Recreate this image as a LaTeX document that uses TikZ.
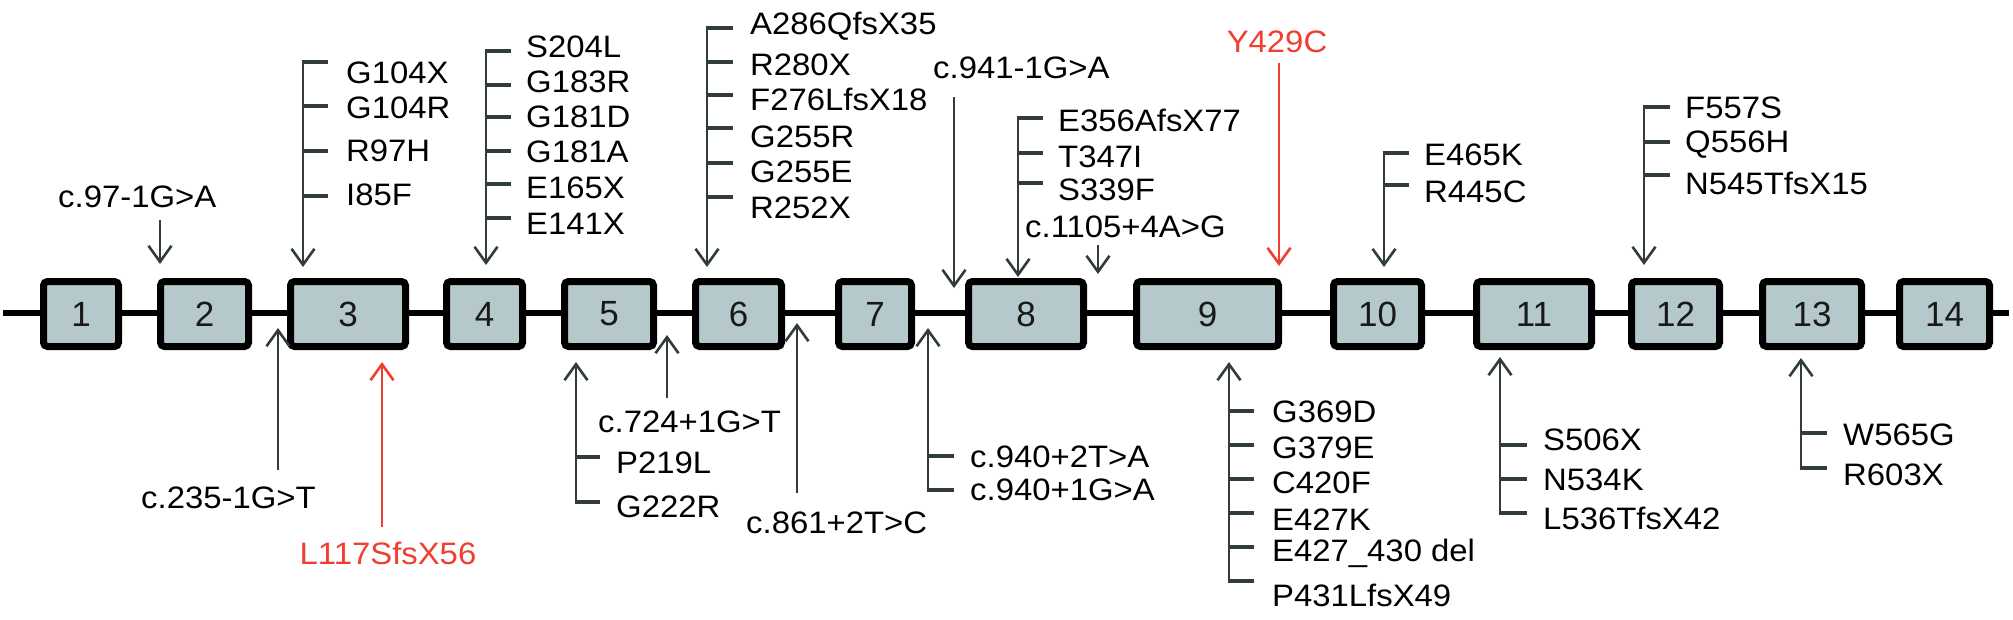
\documentclass[tikz,border=0pt]{standalone}
\usepackage{fontspec}
\setmainfont{Liberation Sans}
\usetikzlibrary{arrows.meta}
\definecolor{boxfill}{RGB}{181,200,203}
\definecolor{ln}{RGB}{50,60,60}
\definecolor{redm}{RGB}{240,62,50}
\begin{document}
\begin{tikzpicture}[x=1pt,y=-1pt,
  lab/.style={anchor=west,inner sep=0pt,font=\fontsize{31}{36}\selectfont,xscale=1.06},
  exon/.style={draw=black,line width=7pt,fill=boxfill,rounded corners=4pt,inner sep=0pt,
    minimum height=65pt,font=\fontsize{35}{40}\selectfont,text=black!90},
  stem/.style={draw=ln,line width=2.6pt},
  tickln/.style={draw=ln,line width=4pt},
  arr/.style={-{Straight Barb[length=16pt,width=23pt,line width=2.6pt]}},
  redarr/.style={draw=redm,line width=2.6pt,-{Straight Barb[length=16pt,width=23pt,line width=2.6pt]}}]
\fill[white] (0,0) rectangle (2013,619);
\useasboundingbox (0,0) rectangle (2013,619);
% backbone
\coordinate (L) at (3,313);
\coordinate (R) at (2009,313);
\draw[line width=6pt] (L) -- (R);
% exons
\foreach \n/\a/\b in {1/40/122,2/157/252,3/287/409,4/443/526,5/561/657,6/692/785,7/835/915,8/965/1087,9/1133/1282,10/1330/1425,11/1473/1595,12/1628/1723,13/1759/1865,14/1896/1993}{
  \pgfmathsetmacro{\w}{\b-\a-7}
  \pgfmathsetmacro{\c}{(\a+\b)/2}
  \node[exon,minimum width=\w pt] (e\n) at (\c,314) {\n};
}
% ---------- top ----------
% c.97-1G>A
\node[lab] (c97) at (58,197) {c.97-1G>A};
\coordinate (s97) at (160,220);
\coordinate (t97) at (160,264);
\draw[stem,arr] (s97) -- (t97);
% exon 3
\coordinate (s3) at (303,62);
\coordinate (t3) at (303,267);
\draw[stem,arr] (s3) -- (t3);
\foreach \y in {62,106,151,196} \draw[tickln] (301.7,\y) -- (328,\y);
\foreach \t/\y/\k in {G104X/73/a,G104R/108/b,R97H/151/c,I85F/195/d} \node[lab] (x3\k) at (346,\y) {\t};
% exon 4
\coordinate (s4) at (486,51);
\coordinate (t4) at (486,265);
\draw[stem,arr] (s4) -- (t4);
\foreach \y in {51,85,117,151,184,218} \draw[tickln] (484.7,\y) -- (511,\y);
\foreach \t/\y/\k in {S204L/47/a,G183R/82/b,G181D/117/c,G181A/152/d,E165X/188/e,E141X/224/f} \node[lab] (x4\k) at (526,\y) {\t};
% exon 6
\coordinate (s6) at (707,28);
\coordinate (t6) at (707,267);
\draw[stem,arr] (s6) -- (t6);
\foreach \y in {28,62,95,128,163,197} \draw[tickln] (705.7,\y) -- (733,\y);
\foreach \t/\y/\k in {A286QfsX35/26/a,R280X/65/b,F276LfsX18/99/c,G255R/137/d,G255E/172/e,R252X/208/f} \node[lab] (x6\k) at (750,\y) {\t};
% c.941-1G>A
\node[lab] (c941) at (933,68) {c.941-1G>A};
\coordinate (s941) at (954,97);
\coordinate (t941) at (954,288);
\draw[stem,arr] (s941) -- (t941);
% exon 8
\coordinate (s8) at (1018,118);
\coordinate (t8) at (1018,277);
\draw[stem,arr] (s8) -- (t8);
\foreach \y in {118,153,183} \draw[tickln] (1016.7,\y) -- (1043,\y);
\foreach \t/\y/\k in {E356AfsX77/120/a,T347I/157/b,S339F/190/c} \node[lab] (x8\k) at (1058,\y) {\t};
% c.1105+4A>G
\node[lab] (c1105) at (1025,227) {c.1105+4A>G};
\coordinate (s1105) at (1098,245);
\coordinate (t1105) at (1098,274);
\draw[stem,arr] (s1105) -- (t1105);
% Y429C
\node[lab,anchor=center,text=redm] (y429) at (1277,42) {Y429C};
\coordinate (s429) at (1279,63);
\coordinate (t429) at (1279,266);
\draw[redarr] (s429) -- (t429);
% exon 10
\coordinate (s10) at (1384,153);
\coordinate (t10) at (1384,267);
\draw[stem,arr] (s10) -- (t10);
\foreach \y in {153,185} \draw[tickln] (1382.7,\y) -- (1409,\y);
\foreach \t/\y/\k in {E465K/155/a,R445C/192/b} \node[lab] (x10\k) at (1424,\y) {\t};
% exon 12
\coordinate (s12) at (1644,107);
\coordinate (t12) at (1644,265);
\draw[stem,arr] (s12) -- (t12);
\foreach \y in {107,142,175} \draw[tickln] (1642.7,\y) -- (1670,\y);
\foreach \t/\y/\k in {F557S/108/a,Q556H/145/b,N545TfsX15/183/c} \node[lab] (x12\k) at (1685,\y) {\t};
% ---------- bottom ----------
% c.235-1G>T
\node[lab] (c235) at (141,498) {c.235-1G>T};
\coordinate (s235) at (278,470);
\coordinate (t235) at (278,328);
\draw[stem,arr] (s235) -- (t235);
% L117SfsX56
\node[lab,anchor=center,text=redm] (l117) at (388,553) {L117SfsX56};
\coordinate (s117) at (382,527);
\coordinate (t117) at (382,362);
\draw[redarr] (s117) -- (t117);
% exon 5
\coordinate (s5) at (576,502);
\coordinate (t5) at (576,362);
\draw[stem,arr] (s5) -- (t5);
\foreach \y in {457,502} \draw[tickln] (574.7,\y) -- (600,\y);
\foreach \t/\y/\k in {P219L/463/a,G222R/507/b} \node[lab] (x5\k) at (616,\y) {\t};
% c.724+1G>T
\node[lab] (c724) at (598,422) {c.724+1G>T};
\coordinate (s724) at (667,398);
\coordinate (t724) at (667,335);
\draw[stem,arr] (s724) -- (t724);
% c.861+2T>C
\node[lab] (c861) at (746,523) {c.861+2T>C};
\coordinate (s861) at (797,493);
\coordinate (t861) at (797,323);
\draw[stem,arr] (s861) -- (t861);
% exon 7 (c.940)
\coordinate (s7) at (928,490);
\coordinate (t7) at (928,328);
\draw[stem,arr] (s7) -- (t7);
\foreach \y in {456,490} \draw[tickln] (926.7,\y) -- (954,\y);
\foreach \t/\y/\k in {c.940+2T>A/457/a,c.940+1G>A/490/b} \node[lab] (x7\k) at (970,\y) {\t};
% exon 9
\coordinate (s9) at (1229,581);
\coordinate (t9) at (1229,362);
\draw[stem,arr] (s9) -- (t9);
\foreach \y in {411,445,479,513,547,581} \draw[tickln] (1227.7,\y) -- (1254,\y);
\foreach \t/\y/\k in {G369D/412/a,G379E/448/b,C420F/483/c,E427K/520/d,E427\_430 del/553/e,P431LfsX49/595/f} \node[lab] (x9\k) at (1272,\y) {\t};
% exon 11
\coordinate (s11) at (1500,513);
\coordinate (t11) at (1500,357);
\draw[stem,arr] (s11) -- (t11);
\foreach \y in {445,479,513} \draw[tickln] (1498.7,\y) -- (1527,\y);
\foreach \t/\y/\k in {S506X/440/a,N534K/480/b,L536TfsX42/518/c} \node[lab] (x11\k) at (1543,\y) {\t};
% exon 13
\coordinate (s13) at (1801,468);
\coordinate (t13) at (1801,358);
\draw[stem,arr] (s13) -- (t13);
\foreach \y in {433,468} \draw[tickln] (1799.7,\y) -- (1827,\y);
\foreach \t/\y/\k in {W565G/435/a,R603X/475/b} \node[lab] (x13\k) at (1843,\y) {\t};
\end{tikzpicture}
\end{document}
